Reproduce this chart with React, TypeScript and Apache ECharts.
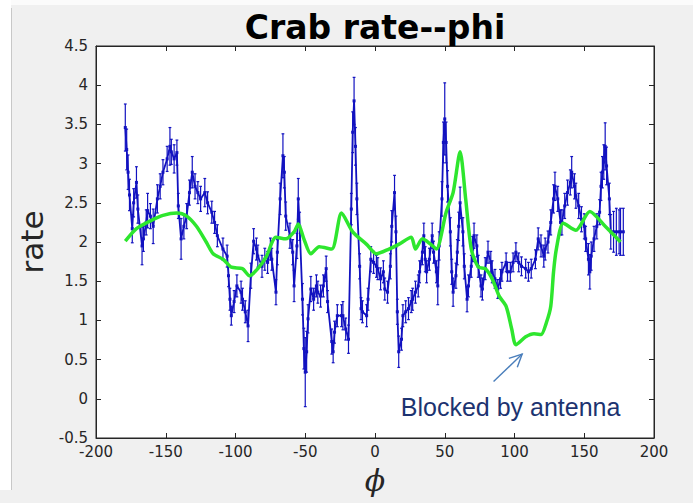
import React, { useEffect, useRef } from "react";
import * as echarts from "echarts";

// Binned crab rate vs azimuth: [phi (deg), rate, error]
const crabBins: [number, number, number][] = [
  [-179, 3.46, 0.3], [-178, 3.18, 0.26], [-177, 2.89, 0.22], [-176, 2.6, 0.2], [-174, 2.17, 0.18],
  [-173, 2.5, 0.18], [-171, 2.76, 0.2], [-170, 2.42, 0.18], [-167, 1.95, 0.24], [-166, 2.04, 0.16],
  [-164, 2.25, 0.16], [-163, 2.4, 0.22], [-161, 2.33, 0.16], [-159, 2.2, 0.22], [-156, 2.55, 0.18],
  [-154, 2.71, 0.16], [-152, 2.89, 0.16], [-149, 3.06, 0.16], [-147, 3.22, 0.24], [-146, 3.15, 0.16],
  [-144, 3.06, 0.18], [-142, 3.14, 0.16], [-141, 2.46, 0.16], [-139, 2.04, 0.26], [-137, 2.2, 0.16],
  [-135, 2.33, 0.16], [-133, 2.63, 0.16], [-131, 2.89, 0.2], [-129, 2.71, 0.16], [-127, 2.63, 0.14],
  [-125, 2.55, 0.16], [-122, 2.63, 0.18], [-120, 2.5, 0.14], [-117, 2.38, 0.14], [-115, 2.25, 0.14],
  [-113, 2.08, 0.14], [-109, 1.91, 0.14], [-106, 1.82, 0.14], [-105, 1.57, 0.14], [-104, 1.27, 0.14],
  [-103, 1.06, 0.12], [-101, 1.24, 0.14], [-99, 1.44, 0.14], [-96, 1.36, 0.14], [-95, 1.27, 0.14],
  [-93, 1.11, 0.14], [-91, 0.93, 0.2], [-89, 1.57, 0.16], [-87, 2.01, 0.16], [-85, 1.91, 0.14],
  [-84, 1.82, 0.14], [-81, 1.69, 0.14], [-79, 1.78, 0.14], [-77, 1.74, 0.14], [-75, 1.91, 0.14],
  [-74, 1.78, 0.14], [-71, 1.36, 0.16], [-70, 1.87, 0.16], [-68, 2.55, 0.2], [-66, 3.1, 0.28],
  [-65, 2.89, 0.2], [-64, 2.33, 0.18], [-61, 2.08, 0.16], [-59, 1.87, 0.16], [-58, 1.44, 0.2],
  [-56, 1.95, 0.16], [-55, 2.55, 0.26], [-54, 2.2, 0.18], [-52, 1.27, 0.2], [-51, 0.64, 0.26],
  [-50, 0.34, 0.44], [-49, 0.6, 0.26], [-48, 1.02, 0.18], [-46, 1.4, 0.16], [-44, 1.27, 0.14],
  [-42, 1.44, 0.14], [-41, 1.36, 0.14], [-39, 1.31, 0.14], [-37, 1.44, 0.14], [-35, 1.66, 0.16],
  [-34, 1.24, 0.14], [-31, 0.73, 0.16], [-30, 0.6, 0.14], [-29, 0.85, 0.14], [-27, 1.06, 0.14],
  [-24, 1.06, 0.14], [-23, 1.06, 0.18], [-21, 0.89, 0.14], [-19, 0.76, 0.18], [-17, 2.42, 0.2],
  [-16, 3.4, 0.26], [-15, 3.8, 0.3], [-14, 3.22, 0.24], [-13, 2.55, 0.2], [-11, 1.69, 0.16],
  [-10, 1.15, 0.14], [-9, 1.11, 0.14], [-6, 1.06, 0.14], [-5, 1.27, 0.14], [-3, 1.78, 0.16],
  [-1, 1.74, 0.14], [1, 1.69, 0.14], [2, 1.66, 0.14], [4, 1.53, 0.14], [6, 1.62, 0.14],
  [7, 1.4, 0.14], [9, 1.36, 0.14], [11, 1.69, 0.16], [12, 2.2, 0.2], [14, 2.63, 0.22],
  [15, 2.13, 0.2], [16, 1.11, 0.16], [17, 0.6, 0.2], [19, 0.76, 0.14], [20, 1.06, 0.14],
  [22, 1.11, 0.14], [24, 1.15, 0.14], [26, 1.24, 0.14], [27, 1.27, 0.14], [29, 1.36, 0.14],
  [31, 1.44, 0.14], [32, 1.62, 0.14], [34, 1.87, 0.16], [35, 2.08, 0.16], [36, 1.78, 0.16],
  [37, 1.62, 0.14], [39, 1.78, 0.14], [41, 2.08, 0.16], [42, 1.87, 0.14], [44, 1.62, 0.14],
  [45, 1.44, 0.24], [46, 1.95, 0.18], [48, 2.55, 0.22], [49, 3.27, 0.26], [50, 3.57, 0.46],
  [51, 3.27, 0.26], [52, 2.71, 0.2], [54, 2.13, 0.18], [55, 1.62, 0.16], [56, 1.36, 0.18],
  [58, 1.57, 0.16], [59, 1.87, 0.16], [60, 2.2, 0.18], [61, 2.5, 0.2], [63, 2.13, 0.18],
  [64, 1.69, 0.16], [66, 1.27, 0.16], [67, 1.44, 0.14], [69, 1.69, 0.14], [70, 1.91, 0.16],
  [71, 2.08, 0.16], [73, 1.95, 0.14], [74, 1.69, 0.14], [76, 1.44, 0.14], [77, 1.4, 0.14],
  [79, 1.66, 0.14], [81, 1.87, 0.14], [83, 1.74, 0.14], [84, 1.62, 0.14], [86, 1.53, 0.12],
  [88, 1.4, 0.12], [90, 1.53, 0.12], [91, 1.62, 0.12], [94, 1.74, 0.12], [95, 1.62, 0.12],
  [97, 1.62, 0.12], [99, 1.74, 0.12], [101, 1.87, 0.12], [103, 1.74, 0.12], [105, 1.69, 0.12],
  [108, 1.66, 0.12], [110, 1.62, 0.12], [112, 1.66, 0.12], [115, 1.78, 0.12], [117, 2.04, 0.14],
  [119, 1.95, 0.14], [121, 1.82, 0.14], [122, 1.91, 0.14], [124, 2.0, 0.14], [126, 2.25, 0.16],
  [128, 2.55, 0.18], [129, 2.71, 0.18], [131, 2.55, 0.16], [133, 2.25, 0.16], [134, 2.25, 0.16],
  [136, 2.46, 0.16], [138, 2.63, 0.16], [140, 2.76, 0.16], [141, 2.89, 0.2], [143, 2.71, 0.16],
  [144, 2.59, 0.16], [146, 2.46, 0.16], [148, 2.29, 0.16], [150, 2.2, 0.16], [151, 2.04, 0.16],
  [153, 1.78, 0.2], [154, 1.62, 0.22], [155, 1.82, 0.18], [157, 2.04, 0.16], [159, 2.2, 0.16],
  [161, 2.38, 0.16], [162, 2.71, 0.18], [163, 2.89, 0.2], [164, 3.02, 0.22], [165, 3.22, 0.3],
  [166, 2.97, 0.24], [168, 2.55, 0.2], [169, 2.13, 0.22], [171, 2.13, 0.26], [173, 2.13, 0.3],
  [175, 2.13, 0.28], [176, 2.13, 0.3], [178, 2.13, 0.3],
];

// Smoothed reference rate
const smoothCurve: [number, number][] = [
  [-179, 2.01], [-171, 2.17], [-161, 2.27], [-152, 2.34], [-142, 2.37], [-135, 2.33],
  [-128, 2.2], [-121, 2.0], [-116, 1.85], [-109, 1.78], [-103, 1.68], [-95, 1.66],
  [-90, 1.57], [-84, 1.66], [-78, 1.81], [-71, 2.06], [-64, 2.04], [-58, 2.13],
  [-55, 2.23], [-51, 2.04], [-46, 1.85], [-40, 1.94], [-31, 1.91], [-24, 2.37],
  [-16, 2.13], [-6, 1.97], [1, 1.85], [10, 1.91], [17, 1.97], [26, 2.06], [29, 1.91],
  [34, 2.04], [40, 1.97], [44, 1.91], [51, 2.38], [56, 2.63], [61, 3.15], [65, 2.55],
  [69, 1.91], [74, 1.68], [79, 1.66], [84, 1.53], [89, 1.31], [94, 1.18], [98, 0.89],
  [101, 0.69], [108, 0.79], [114, 0.83], [119, 0.82], [123, 0.98], [126, 1.18],
  [128, 1.62], [130, 1.91], [135, 2.24], [144, 2.15], [154, 2.39], [165, 2.2], [176, 2.0],
];

const X_MIN = -200;
const X_MAX = 200;
const X_STEP = 50;
const Y_MIN = -0.5;
const Y_MAX = 4.5;
const Y_STEP = 0.5;

const TITLE = "Crab rate--phi";
const Y_NAME = "rate";
const X_NAME = "\u03D5";
const NOTE = "Blocked by antenna";
// arrow tail and tip in data units
const NOTE_ARROW: [[number, number], [number, number]] = [[85, 0.22], [105.5, 0.57]];
const NOTE_ANCHOR: [number, number] = [18.5, -0.1];

const BLUE = "#1212c0";
const GREEN = "#2ee62e";
const AXIS = "#262626";
const FIG_BG = "#f0f0f0";

export default function App() {
  const ref = useRef<HTMLDivElement>(null);

  useEffect(() => {
    document.body.style.margin = "0";
    const el = ref.current!;
    const chart = echarts.init(el, null, { renderer: "svg" });

    const tickFont = { fontFamily: "DejaVu Sans", fontSize: 15, color: AXIS };

    chart.setOption({
      animation: false,
      backgroundColor: FIG_BG,
      title: {
        text: TITLE,
        left: 370,
        textAlign: "center",
        top: 6,
        textStyle: { fontFamily: "DejaVu Sans", fontWeight: "bold", fontSize: 33, color: "#000" },
      },
      grid: {
        left: 96,
        right: 39,
        top: 46,
        bottom: 65,
        show: true,
        backgroundColor: "#ffffff",
        borderColor: AXIS,
        borderWidth: 1,
      },
      xAxis: [
        {
          type: "value",
          min: X_MIN,
          max: X_MAX,
          interval: X_STEP,
          position: "bottom",
          name: X_NAME,
          nameLocation: "middle",
          nameGap: 27,
          nameTextStyle: { fontFamily: "DejaVu Serif", fontStyle: "italic", fontSize: 30, color: AXIS },
          axisLine: { show: true, onZero: false, lineStyle: { color: AXIS, width: 1 } },
          axisTick: { show: true, inside: true, length: 5, lineStyle: { color: AXIS } },
          axisLabel: { ...tickFont, margin: 6 },
          splitLine: { show: false },
        },
        {
          type: "value",
          min: X_MIN,
          max: X_MAX,
          interval: X_STEP,
          position: "top",
          axisLine: { show: true, onZero: false, lineStyle: { color: AXIS, width: 1 } },
          axisTick: { show: true, inside: true, length: 5, lineStyle: { color: AXIS } },
          axisLabel: { show: false },
          splitLine: { show: false },
        },
      ],
      yAxis: [
        {
          type: "value",
          min: Y_MIN,
          max: Y_MAX,
          interval: Y_STEP,
          position: "left",
          name: Y_NAME,
          nameLocation: "middle",
          nameGap: 49,
          nameRotate: 90,
          nameTextStyle: { fontFamily: "DejaVu Sans", fontSize: 31, color: AXIS },
          axisLine: { show: true, onZero: false, lineStyle: { color: AXIS, width: 1 } },
          axisTick: { show: true, inside: true, length: 5, lineStyle: { color: AXIS } },
          axisLabel: { ...tickFont, margin: 8 },
          splitLine: { show: false },
        },
        {
          type: "value",
          min: Y_MIN,
          max: Y_MAX,
          interval: Y_STEP,
          position: "right",
          axisLine: { show: true, onZero: false, lineStyle: { color: AXIS, width: 1 } },
          axisTick: { show: true, inside: true, length: 5, lineStyle: { color: AXIS } },
          axisLabel: { show: false },
          splitLine: { show: false },
        },
      ],
      series: [
        {
          name: "error",
          type: "custom",
          xAxisIndex: 0,
          yAxisIndex: 0,
          data: crabBins,
          encode: { x: 0, y: 1 },
          renderItem: (_params: any, api: any) => {
            const x = api.value(0);
            const y = api.value(1);
            const e = api.value(2);
            const hi = api.coord([x, y + e]);
            const lo = api.coord([x, y - e]);
            const cap = 1.4;
            const st = { stroke: BLUE, lineWidth: 1.2 };
            return {
              type: "group",
              children: [
                { type: "line", shape: { x1: hi[0], y1: hi[1], x2: lo[0], y2: lo[1] }, style: st },
                { type: "line", shape: { x1: hi[0] - cap, y1: hi[1], x2: hi[0] + cap, y2: hi[1] }, style: st },
                { type: "line", shape: { x1: lo[0] - cap, y1: lo[1], x2: lo[0] + cap, y2: lo[1] }, style: st },
              ],
            };
          },
          z: 2,
        },
        {
          name: "rate",
          type: "line",
          data: crabBins.map((b) => [b[0], b[1]]),
          showSymbol: true,
          symbol: "rect",
          symbolSize: 3,
          itemStyle: { color: BLUE },
          lineStyle: { color: BLUE, width: 1.8 },
          z: 3,
        },
        {
          name: "smooth",
          type: "line",
          data: smoothCurve,
          showSymbol: false,
          smooth: 0.25,
          lineStyle: { color: GREEN, width: 3.5 },
          z: 4,
        },
      ],
    });

    // Annotation placed in data coordinates
    const px = (v: [number, number]) => chart.convertToPixel({ gridIndex: 0 }, v) as number[];
    const tail = px(NOTE_ARROW[0]);
    const tip = px(NOTE_ARROW[1]);
    const ang = Math.atan2(tip[1] - tail[1], tip[0] - tail[0]);
    const headLen = 14;
    const spread = 0.45;
    const h1 = [tip[0] - headLen * Math.cos(ang - spread), tip[1] - headLen * Math.sin(ang - spread)];
    const h2 = [tip[0] - headLen * Math.cos(ang + spread), tip[1] - headLen * Math.sin(ang + spread)];
    const anchor = px(NOTE_ANCHOR);
    const arrowStyle = { stroke: "#4a7ebb", lineWidth: 1.4, fill: null };

    chart.setOption({
      graphic: [
        { type: "rect", left: 0, top: 0, shape: { width: 693, height: 5 }, style: { fill: "#fbfbfb" }, silent: true },
        { type: "rect", left: 0, top: 0, shape: { width: 11, height: 490 }, style: { fill: "#ffffff" }, silent: true },
        { type: "line", shape: { x1: 11.5, y1: 8, x2: 11.5, y2: 490 }, style: { stroke: "#c8c8c8", lineWidth: 1 }, silent: true },
        { type: "line", shape: { x1: tail[0], y1: tail[1], x2: tip[0], y2: tip[1] }, style: arrowStyle, silent: true },
        { type: "polyline", shape: { points: [h1, tip, h2] }, style: arrowStyle, silent: true },
        {
          type: "text",
          x: anchor[0],
          y: anchor[1],
          style: {
            text: NOTE,
            fill: "#1c3370",
            font: "25px 'Liberation Sans', Arial, sans-serif",
            textAlign: "left",
            textVerticalAlign: "middle",
          },
          silent: true,
        },
      ],
    });

    return () => chart.dispose();
  }, []);

  return <div ref={ref} style={{ position: "fixed", left: 0, top: 0, width: 693, height: 503 }} />;
}
